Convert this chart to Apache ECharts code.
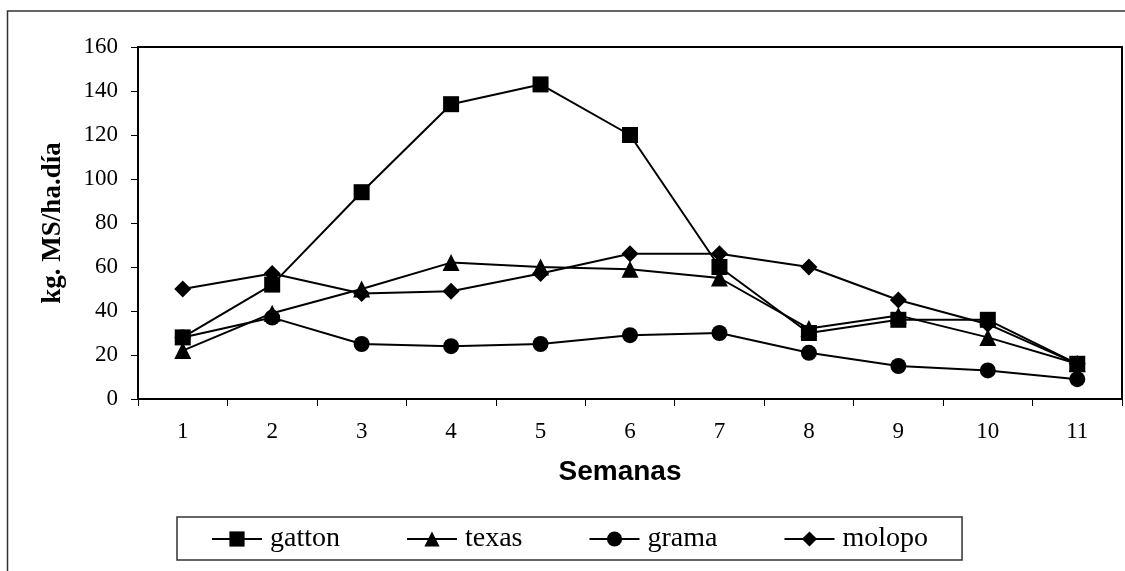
<!DOCTYPE html>
<html>
<head>
<meta charset="utf-8">
<script src="https://cdn.jsdelivr.net/npm/echarts@6/dist/echarts.min.js"></script>
<style>
html,body{margin:0;padding:0;background:#fff;}
#main{width:1125px;height:571px;}
</style>
</head>
<body>
<div id="main"></div>
<script>
var categories = ['1','2','3','4','5','6','7','8','9','10','11'];
var gatton = [28, 52, 94, 134, 143, 120, 60, 30, 36, 36, 16];
var texas  = [22, 39, 50, 62, 60, 59, 55, 32, 38, 28, 16];
var grama  = [28, 37, 25, 24, 25, 29, 30, 21, 15, 13, 9];
var molopo = [50, 57, 48, 49, 57, 66, 66, 60, 45, 34, 16];
var yTicks = [0, 20, 40, 60, 80, 100, 120, 140, 160];

var chart = echarts.init(document.getElementById('main'), null, {renderer: 'canvas'});
function mkSeries(name, data, symbol, size) {
  return {
    name: name, type: 'line', data: data,
    symbol: symbol, symbolSize: size,
    lineStyle: {color: '#000', width: 2},
    itemStyle: {color: '#000', borderWidth: 0},
    emphasis: {disabled: true},
    animation: false
  };
}
chart.setOption({
  backgroundColor: '#fff',
  animation: false,
  graphic: [{
    type: 'rect', silent: true, z: -1,
    shape: {x: 7.5, y: 11, width: 1140, height: 600},
    style: {fill: 'none', stroke: '#333', lineWidth: 1.5}
  }],
  grid: {left: 138, top: 47, right: 3, bottom: 172, show: true, borderColor: '#000', borderWidth: 2, backgroundColor: 'transparent'},
  legend: {
    left: 177, top: 517,
    padding: [8, 34, 7, 34],
    itemGap: 66, itemWidth: 50, itemHeight: 19,
    borderColor: '#333', borderWidth: 1.5,
    textStyle: {fontFamily: 'Liberation Serif', fontSize: 28, color: '#000', padding: [0, 0, 0, 3]},
    data: ['gatton', 'texas', 'grama', 'molopo']
  },
  xAxis: {
    type: 'category', data: categories, boundaryGap: true,
    name: 'Semanas', nameLocation: 'middle', nameGap: 59,
    nameTextStyle: {fontFamily: 'Liberation Sans', fontWeight: 'bold', fontSize: 28, color: '#000', padding: [0, 20, 0, 0]},
    axisLine: {lineStyle: {color: '#000', width: 2}},
    axisTick: {show: true, interval: 0, length: 7, lineStyle: {color: '#000', width: 1}},
    axisLabel: {interval: 0, margin: 21, fontFamily: 'Liberation Serif', fontSize: 23, color: '#000'},
    splitLine: {show: false}
  },
  yAxis: {
    type: 'value', min: 0, max: 160, interval: 20,
    name: 'kg. MS/ha.día', nameLocation: 'middle', nameGap: 71,
    nameTextStyle: {fontFamily: 'Liberation Serif', fontWeight: 'bold', fontSize: 27, color: '#000'},
    axisLine: {show: true, lineStyle: {color: '#000', width: 2}},
    axisTick: {show: true, length: 7, lineStyle: {color: '#000', width: 1}},
    axisLabel: {margin: 20, fontFamily: 'Liberation Serif', fontSize: 23, color: '#000',
      formatter: function (v) { return yTicks.indexOf(v) >= 0 ? String(v) : ''; }},
    splitLine: {show: false}
  },
  series: [
    mkSeries('gatton', gatton, 'rect', 16),
    mkSeries('texas', texas, 'triangle', 17),
    mkSeries('grama', grama, 'circle', 16),
    mkSeries('molopo', molopo, 'diamond', 17)
  ]
});
</script>
</body>
</html>
